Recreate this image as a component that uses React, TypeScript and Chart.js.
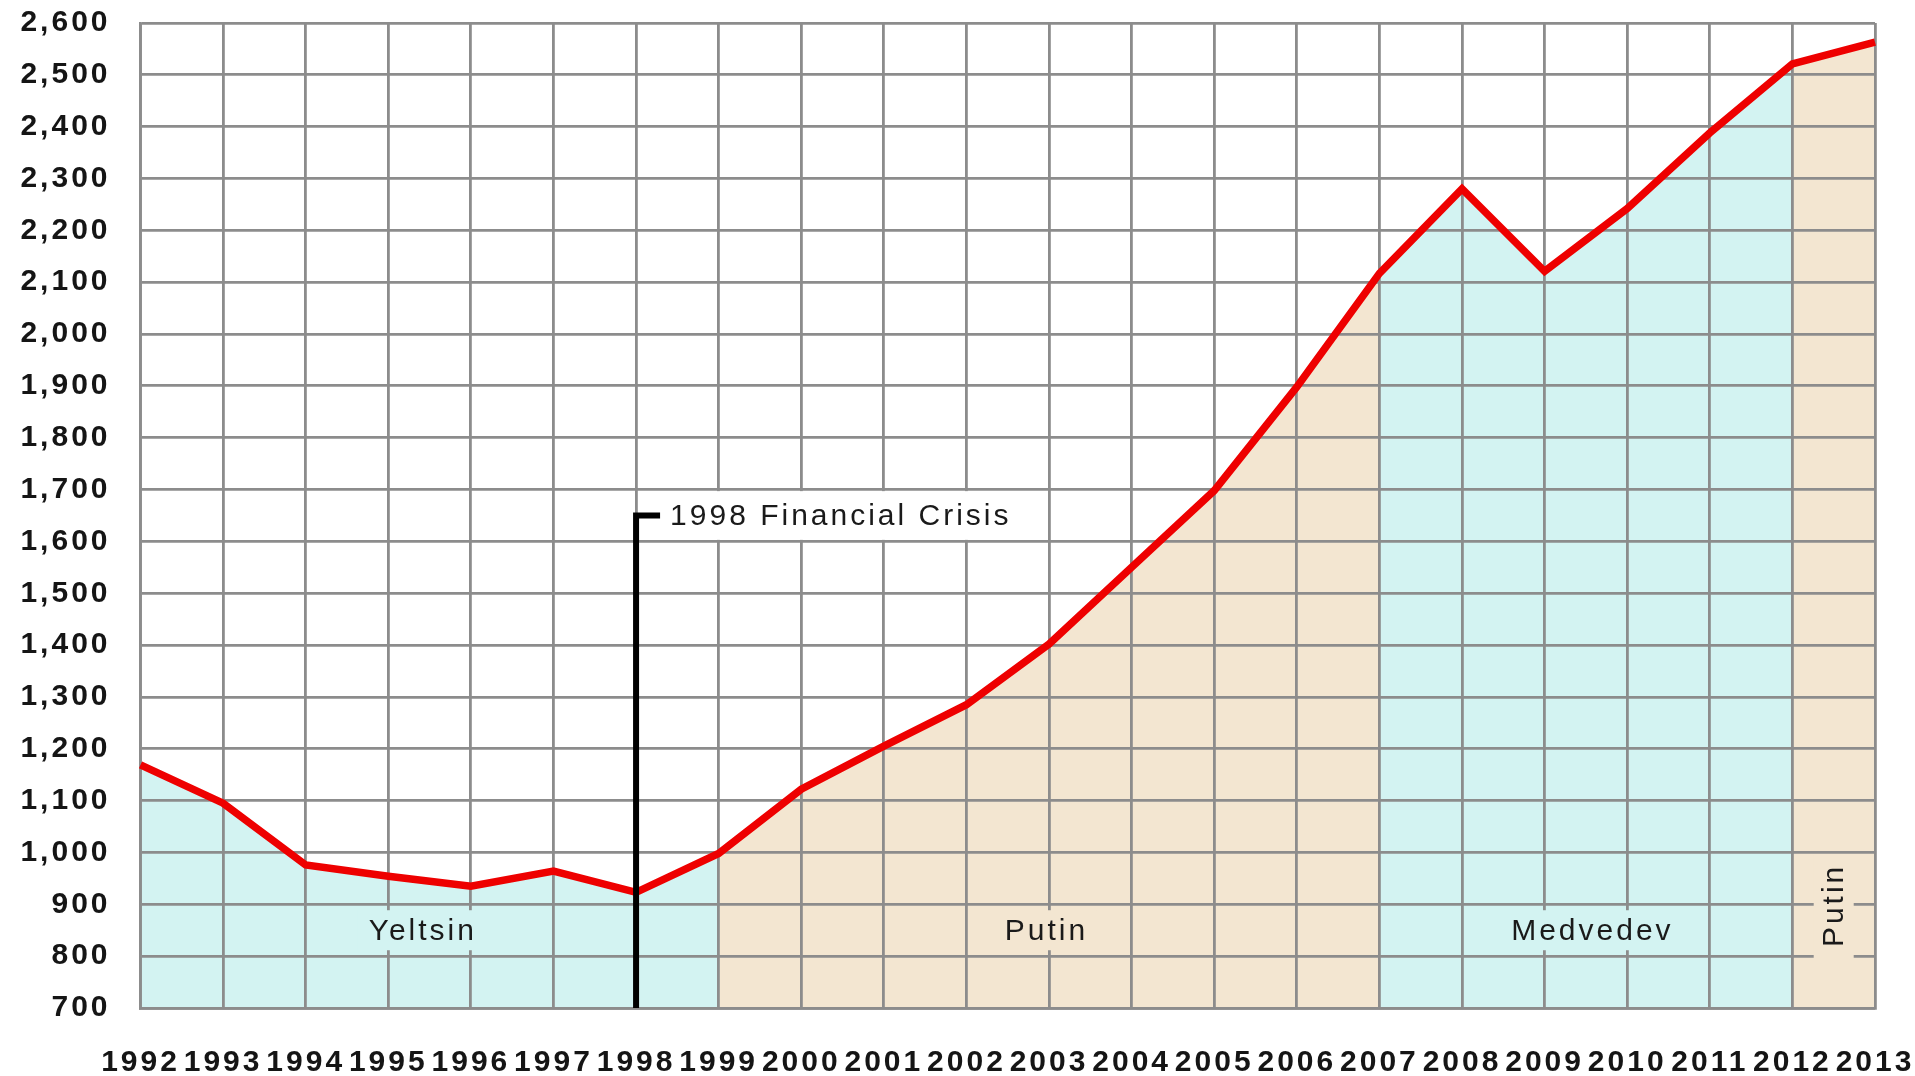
import { useEffect, useRef } from 'react';
import { Chart, registerables } from 'chart.js';

Chart.register(...registerables);

// ---------- data ----------
const years = ['1992', '1993', '1994', '1995', '1996', '1997', '1998', '1999', '2000', '2001', '2002',
  '2003', '2004', '2005', '2006', '2007', '2008', '2009', '2010', '2011', '2012', '2013'];
const gdpValues = [1169, 1095, 976, 954, 935, 964, 923, 998, 1122, 1205, 1285,
  1402, 1550, 1698, 1898, 2117, 2280, 2121, 2242, 2388, 2521, 2563];

const yMin = 700;
const yMax = 2600;
const yStep = 100;

const periodNames = ['Yeltsin', 'Putin', 'Medvedev', 'Putin'];
const periodStartYears = ['1992', '1999', '2007', '2012'];
const periodEndYears = ['1999', '2007', '2012', '2013'];

const crisisYear = '1998';
const crisisLabel = '1998 Financial Crisis';
const crisisTopValue = 1650;

// ---------- styles / layout ----------
const periodColors = ['#d3f3f2', '#f3e6d1', '#d3f3f2', '#f3e6d1'];
const labelLayout = [
  { x: 3.4, v: 850, rotated: false },
  { x: 10.95, v: 850, rotated: false },
  { x: 17.56, v: 850, rotated: false },
  { x: 20.5, v: 895, rotated: true },
];
const FONT_FAMILY = '"Liberation Sans", Arial, sans-serif';
const SPACING = '3px';
const GRID_COLOR = '#8c8c8c';

const annotationPlugin = {
  id: 'periodAnnotations',
  beforeUpdate(chart: any) {
    chart.ctx.letterSpacing = SPACING;
  },
  beforeDraw(chart: any) {
    chart.ctx.letterSpacing = SPACING;
  },
  afterDatasetsDraw(chart: any) {
    const { ctx, chartArea } = chart;
    const x = chart.scales.x;
    const y = chart.scales.y;
    ctx.save();
    ctx.letterSpacing = SPACING;
    ctx.font = `30px ${FONT_FAMILY}`;
    ctx.textBaseline = 'middle';
    ctx.textAlign = 'center';

    // period labels with background boxes
    periodNames.forEach((name, i) => {
      const lay = labelLayout[i];
      const cx = x.getPixelForValue(lay.x);
      const cy = y.getPixelForValue(lay.v);
      const w = ctx.measureText(name).width;
      const boxW = w + 20;
      const boxH = 40;
      ctx.save();
      ctx.translate(cx, cy);
      if (lay.rotated) ctx.rotate(-Math.PI / 2);
      ctx.fillStyle = periodColors[i];
      ctx.fillRect(-boxW / 2, -boxH / 2, boxW, boxH);
      ctx.fillStyle = '#1a1a1a';
      ctx.fillText(name, 1.5, 1);
      ctx.restore();
    });

    // crisis marker
    const cIdx = years.indexOf(crisisYear);
    const x0 = x.getPixelForValue(cIdx);
    const yTop = y.getPixelForValue(crisisTopValue);
    ctx.textAlign = 'left';
    const textX = x0 + 34;
    const tw = ctx.measureText(crisisLabel).width;
    const boxTop = y.getPixelForValue(crisisTopValue + 47);
    const boxBot = y.getPixelForValue(crisisTopValue - 47);
    ctx.fillStyle = '#ffffff';
    ctx.fillRect(x0 + 3, boxTop, textX + tw + 4 - (x0 + 3), boxBot - boxTop);
    ctx.fillStyle = '#1a1a1a';
    ctx.fillText(crisisLabel, textX, yTop + 1);

    ctx.strokeStyle = '#000000';
    ctx.lineWidth = 6;
    ctx.lineJoin = 'miter';
    ctx.lineCap = 'butt';
    ctx.beginPath();
    ctx.moveTo(x0, chartArea.bottom);
    ctx.lineTo(x0, yTop);
    ctx.lineTo(x0 + 24, yTop);
    ctx.stroke();
    ctx.restore();
  },
};

function buildPeriodDatasets() {
  return periodNames.map((name, i) => {
    const s = years.indexOf(periodStartYears[i]);
    const e = years.indexOf(periodEndYears[i]);
    return {
      label: name,
      data: gdpValues.map((v, k) => (k >= s && k <= e ? v : null)),
      fill: { value: yMin },
      backgroundColor: periodColors[i],
      borderColor: 'rgba(0,0,0,0)',
      borderWidth: 0,
      pointRadius: 0,
      tension: 0,
      spanGaps: false,
    };
  });
}

export default function App() {
  const canvasRef = useRef<HTMLCanvasElement | null>(null);

  useEffect(() => {
    if (!canvasRef.current) return;
    const chart = new Chart(canvasRef.current, {
      type: 'line',
      data: {
        labels: years,
        datasets: [
          ...buildPeriodDatasets(),
          {
            label: 'GDP',
            data: gdpValues,
            fill: false,
            borderColor: '#ee0000',
            borderWidth: 7.5,
            pointRadius: 0,
            tension: 0,
          },
        ] as any,
      },
      options: {
        animation: false,
        responsive: true,
        maintainAspectRatio: false,
        layout: { padding: { top: 23, right: 40, left: 0, bottom: 0 } },
        plugins: {
          legend: { display: false },
          tooltip: { enabled: false },
          filler: { drawTime: 'beforeDraw' },
        } as any,
        scales: {
          x: {
            type: 'category',
            offset: false,
            grid: { color: GRID_COLOR, lineWidth: 2.8, drawTicks: false, offset: false },
            border: { color: GRID_COLOR, width: 2.8 },
            ticks: {
              autoSkip: false,
              maxRotation: 0,
              minRotation: 0,
              padding: 37,
              color: '#151515',
              font: { family: FONT_FAMILY, size: 30, weight: 'bold' },
            },
            afterFit: (scale: any) => {
              scale.height = 68;
              scale.paddingLeft = 0;
              scale.paddingRight = 0;
              scale.paddingTop = 0;
              scale.paddingBottom = 0;
            },
          },
          y: {
            min: yMin,
            max: yMax,
            grid: { color: GRID_COLOR, lineWidth: 2.8, drawTicks: false },
            border: { color: GRID_COLOR, width: 2.8 },
            ticks: {
              stepSize: yStep,
              padding: 30,
              color: '#151515',
              font: { family: FONT_FAMILY, size: 30, weight: 'bold' },
              callback: (v: any) => Number(v).toLocaleString('en-US'),
            },
            afterFit: (scale: any) => {
              scale.width = 140.5;
              scale.paddingLeft = 0;
              scale.paddingRight = 0;
              scale.paddingTop = 0;
              scale.paddingBottom = 0;
            },
          },
        },
      } as any,
      plugins: [annotationPlugin],
    });
    return () => chart.destroy();
  }, []);

  return (
    <div style={{ position: 'absolute', left: 0, top: 0, width: 1915, height: 1076, background: '#fff' }}>
      <canvas ref={canvasRef} />
    </div>
  );
}
